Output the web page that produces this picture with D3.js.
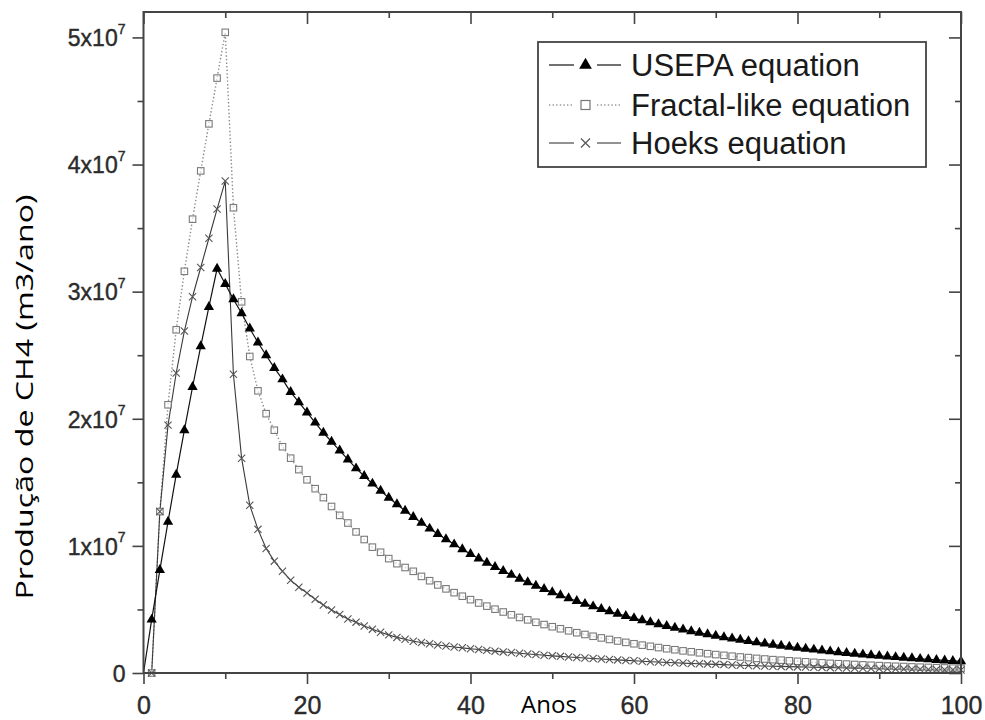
<!DOCTYPE html>
<html><head><meta charset="utf-8">
<script src="https://cdn.jsdelivr.net/npm/d3@7"></script>
<style>body{margin:0;background:#fff}svg{display:block}</style>
</head><body>
<svg id="chart" width="985" height="720"></svg>
<script>
// values in units of 1e7 m3/ano, index = year (0..100)
const usepa = [0,0.42,0.81,1.19,1.56,1.91,2.25,2.57,2.88,3.18,
3.06,2.94,2.83,2.71,2.60,2.50,2.40,2.31,2.21,2.13,
2.05,1.97,1.89,1.82,1.75,1.68,1.61,1.55,1.49,1.434,
1.379,1.327,1.276,1.228,1.181,1.136,1.093,1.052,1.012,0.973,
0.936,0.901,0.867,0.834,0.802,0.772,0.742,0.714,0.687,0.661,
0.636,0.612,0.588,0.566,0.544,0.524,0.504,0.485,0.466,0.449,
0.432,0.415,0.399,0.384,0.370,0.356,0.342,0.329,0.317,0.305,
0.293,0.282,0.271,0.261,0.251,0.241,0.232,0.223,0.215,0.207,
0.199,0.191,0.184,0.177,0.170,0.164,0.158,0.152,0.146,0.140,
0.135,0.130,0.125,0.120,0.116,0.111,0.107,0.103,0.099,0.095,
0.092];
const fractal = [0,0,1.27,2.11,2.70,3.16,3.57,3.95,4.32,4.68,
5.04,3.66,2.92,2.49,2.22,2.04,1.91,1.78,1.69,1.60,
1.52,1.45,1.38,1.31,1.24,1.18,1.11,1.05,0.99,0.95,
0.90,0.86,0.83,0.80,0.76,0.726,0.693,0.662,0.632,0.604,
0.577,0.551,0.526,0.502,0.480,0.458,0.437,0.418,0.399,0.381,
0.364,0.348,0.332,0.317,0.303,0.289,0.276,0.264,0.252,0.241,
0.230,0.219,0.210,0.200,0.191,0.183,0.174,0.167,0.159,0.152,
0.145,0.139,0.132,0.126,0.121,0.115,0.110,0.105,0.101,0.096,
0.092,0.088,0.084,0.080,0.076,0.073,0.070,0.067,0.064,0.061,
0.058,0.055,0.053,0.051,0.048,0.046,0.044,0.042,0.040,0.038,
0.037];
const hoeks = [0,0,1.27,1.95,2.36,2.69,2.96,3.19,3.42,3.65,
3.87,2.35,1.69,1.32,1.13,0.98,0.88,0.80,0.73,0.675,
0.63,0.58,0.535,0.495,0.46,0.425,0.40,0.37,0.345,0.32,
0.30,0.28,0.265,0.25,0.24,0.23,0.22,0.212,0.205,0.198,
0.191,0.185,0.178,0.172,0.166,0.161,0.155,0.150,0.145,0.140,
0.135,0.131,0.126,0.122,0.118,0.114,0.110,0.106,0.103,0.099,
0.096,0.093,0.089,0.086,0.083,0.081,0.078,0.075,0.073,0.070,
0.068,0.066,0.063,0.061,0.059,0.057,0.055,0.053,0.052,0.050,
0.048,0.047,0.045,0.044,0.042,0.041,0.039,0.038,0.037,0.035,
0.034,0.033,0.032,0.031,0.030,0.029,0.028,0.027,0.026,0.025,
0.024];
const seriesNames = ["USEPA equation","Fractal-like equation","Hoeks equation"];
const xTicks = [0,20,40,60,80,100];
const xMinorTicks = [10,30,50,70,90];
const yTicks = [0,1,2,3,4,5];
const yTickMantissa = ["0","1x10","2x10","3x10","4x10","5x10"];
const yTickExponent = ["","7","7","7","7","7"];
const yMinorTicks = [0.5,1.5,2.5,3.5,4.5];
const xTitle = "Anos";
const yTitle = "Produção de CH4 (m3/ano)";

const svg = d3.select("#chart");
const L = 143.5, R = 961, T = 12, B = 673;
const x = d3.scaleLinear().domain([0,100]).range([L,R]);
const y = d3.scaleLinear().domain([0,5.2]).range([B,T]);
const tickColor = "#444";
const labelFont = "Liberation Sans, Arial, sans-serif";

function styleAxis(g){
  g.select(".domain").remove();
  g.selectAll(".tick line").attr("stroke",tickColor).attr("stroke-width",1.6);
}
// bottom
svg.append("g").attr("transform",`translate(0,${B})`)
  .call(d3.axisBottom(x).tickValues(xMinorTicks).tickSize(6).tickFormat(""))
  .call(styleAxis);
svg.append("g").attr("transform",`translate(0,${B})`)
  .call(d3.axisBottom(x).tickValues(xTicks).tickSize(11).tickPadding(12).tickFormat(d3.format("d")))
  .call(styleAxis)
  .call(g=>g.selectAll("text").attr("font-family",labelFont)
     .attr("font-size",25).attr("fill","#2b2b2b").attr("stroke","#2b2b2b").attr("stroke-width",0.4)
     .attr("dy","0.71em"));
// top (inward)
svg.append("g").attr("transform",`translate(0,${T})`)
  .call(d3.axisTop(x).tickValues(xMinorTicks).tickSize(-6).tickFormat(""))
  .call(styleAxis);
svg.append("g").attr("transform",`translate(0,${T})`)
  .call(d3.axisTop(x).tickValues(xTicks).tickSize(-12).tickFormat(""))
  .call(styleAxis);
// left (outward)
svg.append("g").attr("transform",`translate(${L},0)`)
  .call(d3.axisLeft(y).tickValues(yMinorTicks).tickSize(6).tickFormat(""))
  .call(styleAxis);
const yl = svg.append("g").attr("transform",`translate(${L},0)`)
  .call(d3.axisLeft(y).tickValues(yTicks).tickSize(11).tickFormat(""))
  .call(styleAxis);
yl.selectAll(".tick").each(function(d,i){
  const t = d3.select(this).append("text")
    .attr("x",-18).attr("y",0).attr("dy","0.36em")
    .attr("text-anchor","end")
    .attr("font-family",labelFont)
    .attr("font-size",23).attr("fill","#2b2b2b").attr("stroke","#2b2b2b").attr("stroke-width",0.4);
  t.append("tspan").text(yTickMantissa[i]);
  if(yTickExponent[i]) t.append("tspan").attr("font-size",14).attr("dy","-0.9em").text(yTickExponent[i]);
});
// right (inward)
svg.append("g").attr("transform",`translate(${R},0)`)
  .call(d3.axisRight(y).tickValues(yMinorTicks).tickSize(-6).tickFormat(""))
  .call(styleAxis);
svg.append("g").attr("transform",`translate(${R},0)`)
  .call(d3.axisRight(y).tickValues(yTicks).tickSize(-12).tickFormat(""))
  .call(styleAxis);

// series
const pts = arr => arr.map((v,i)=>({t:i,v:v}));
const line = d3.line().x(d=>x(d.t)).y(d=>y(d.v));
const plot = svg.append("g");

plot.append("path").datum(pts(fractal)).attr("d",line).attr("fill","none")
  .attr("stroke","#8a8a8a").attr("stroke-width",1.4).attr("stroke-dasharray","1.4,2.2");
plot.append("path").datum(pts(hoeks)).attr("d",line).attr("fill","none")
  .attr("stroke","#3a3a3a").attr("stroke-width",1.1);
plot.append("path").datum(pts(usepa)).attr("d",line).attr("fill","none")
  .attr("stroke","#111").attr("stroke-width",1.2);

const sq = 6.5;
plot.append("g").selectAll("rect").data(pts(fractal).filter(d=>d.t>0)).join("rect")
  .attr("x",d=>x(d.t)-sq/2).attr("y",d=>y(d.v)-sq/2).attr("width",sq).attr("height",sq)
  .attr("fill","#fff").attr("fill-opacity",0.6).attr("stroke","#7a7a7a").attr("stroke-width",1.1);
const cr = 3.6;
plot.append("g").selectAll("path").data(pts(hoeks).filter(d=>d.t>0)).join("path")
  .attr("d",d=>{const cx=x(d.t), cy=y(d.v);
    return `M${cx-cr},${cy-cr}L${cx+cr},${cy+cr}M${cx-cr},${cy+cr}L${cx+cr},${cy-cr}`;})
  .attr("stroke","#555").attr("stroke-width",1.1).attr("fill","none");
const tri = d3.symbol().type(d3.symbolTriangle).size(46);
plot.append("g").selectAll("path").data(pts(usepa).filter(d=>d.t>0)).join("path")
  .attr("transform",d=>`translate(${x(d.t)},${y(d.v)})`).attr("d",tri).attr("fill","#000");

// frame
svg.append("rect").attr("x",L).attr("y",T).attr("width",R-L).attr("height",B-T)
  .attr("fill","none").attr("stroke",tickColor).attr("stroke-width",2);

// legend
const lg = svg.append("g");
lg.append("rect").attr("x",538).attr("y",42).attr("width",388).attr("height",125)
  .attr("fill","#fff").attr("stroke","#444").attr("stroke-width",1.8);
const rowsY = [65,105,143];
const lStyles = [
  {stroke:"#111",w:1.2,dash:null},
  {stroke:"#9a9a9a",w:1.4,dash:"1.4,2.2"},
  {stroke:"#3a3a3a",w:1.1,dash:null}];
rowsY.forEach((ry,i)=>{
  [[549,574],[597,621]].forEach(([a,b])=>{
    lg.append("line").attr("x1",a).attr("x2",b).attr("y1",ry).attr("y2",ry)
      .attr("stroke",lStyles[i].stroke).attr("stroke-width",lStyles[i].w)
      .attr("stroke-dasharray",lStyles[i].dash);
  });
  const cx = 585.5;
  if(i===0){
    lg.append("path").attr("transform",`translate(${cx},${ry})`)
      .attr("d",d3.symbol().type(d3.symbolTriangle).size(70)).attr("fill","#000");
  } else if(i===1){
    lg.append("rect").attr("x",cx-4.5).attr("y",ry-4.5).attr("width",9).attr("height",9)
      .attr("fill","#fff").attr("stroke","#777").attr("stroke-width",1.2);
  } else {
    const c=4.5;
    lg.append("path").attr("d",`M${cx-c},${ry-c}L${cx+c},${ry+c}M${cx-c},${ry+c}L${cx+c},${ry-c}`)
      .attr("stroke","#555").attr("stroke-width",1.2);
  }
  lg.append("text").attr("x",631).attr("y",ry).attr("dy","0.36em")
    .attr("font-family",labelFont).attr("font-size",31)
    .attr("fill","#1a1a1a").text(seriesNames[i]);
});

// axis titles
svg.append("text").attr("x",549).attr("y",713).attr("text-anchor","middle")
  .attr("font-family","Open Sans, sans-serif").attr("font-size",24).attr("fill","#000")
  .text(xTitle);
svg.append("text").attr("transform","translate(33,397) rotate(-90)")
  .attr("text-anchor","middle")
  .attr("font-family","Open Sans, sans-serif").attr("font-size",23).attr("fill","#000")
  .attr("textLength",405).attr("lengthAdjust","spacingAndGlyphs")
  .text(yTitle);
</script>
</body></html>
